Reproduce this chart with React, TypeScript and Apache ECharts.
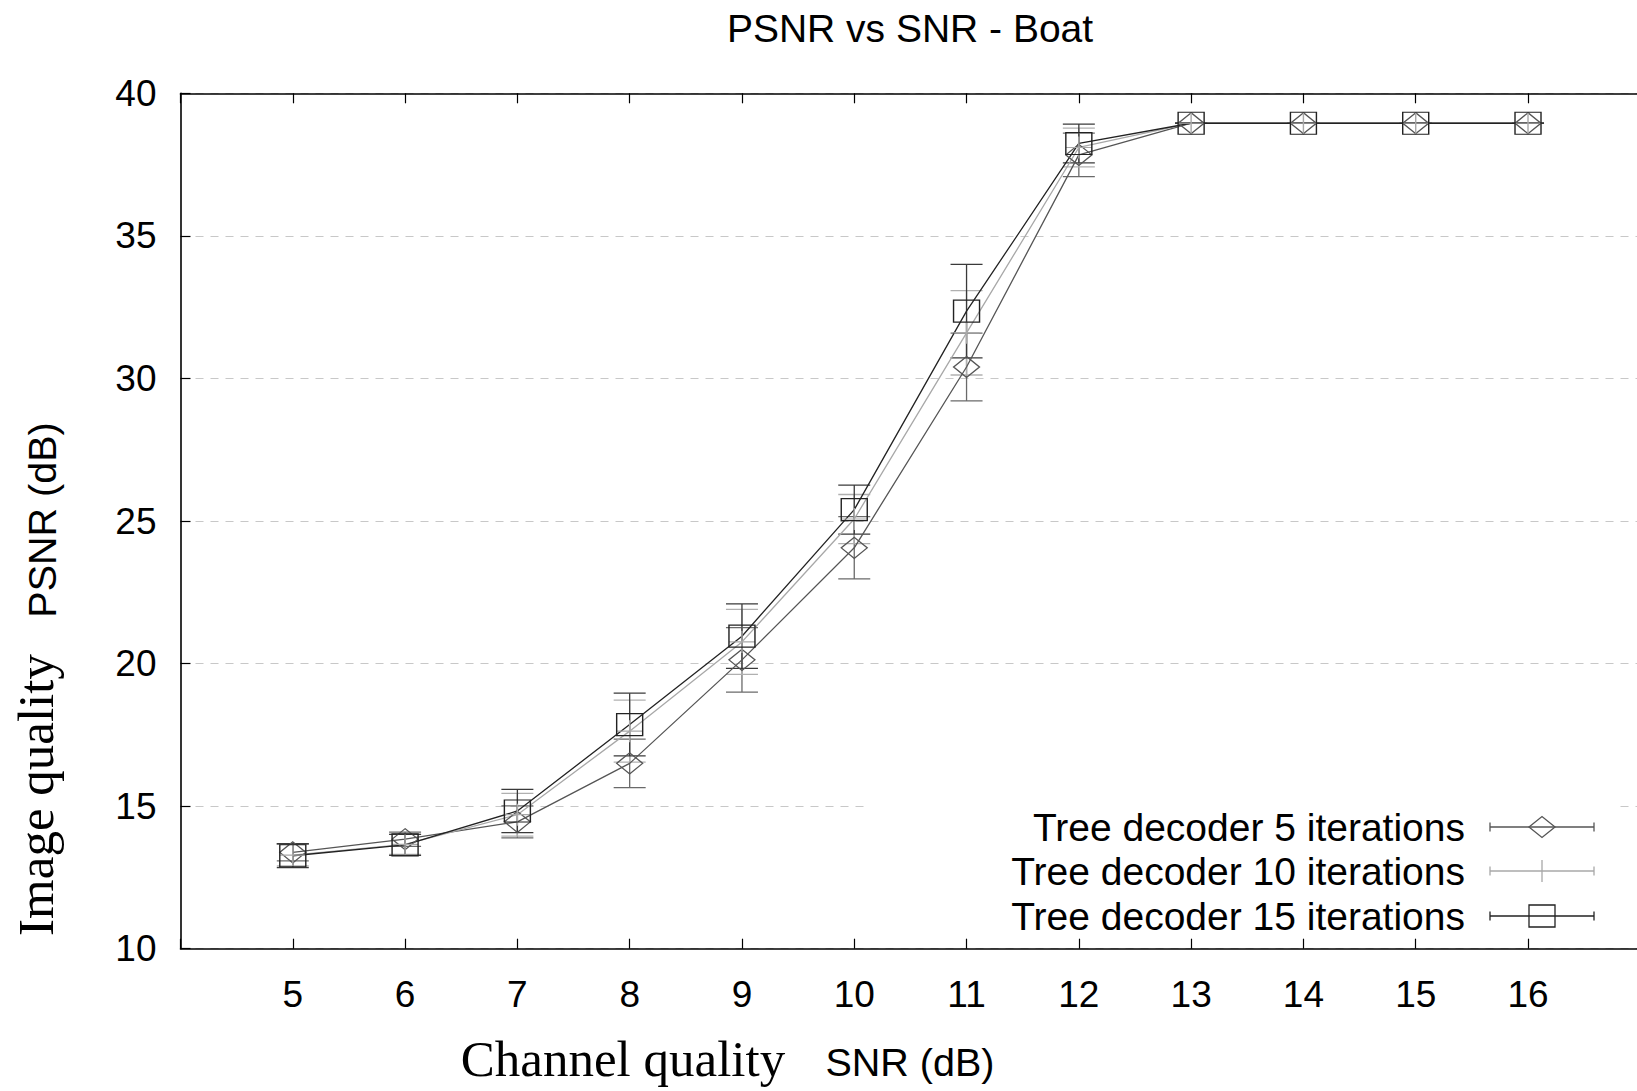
import React, { useEffect, useRef } from "react";
import * as echarts from "echarts";

// ---- data ----
const snr = [5, 6, 7, 8, 9, 10, 11, 12, 13, 14, 15, 16];
const psnr5 = [13.38, 13.84, 14.45, 16.5, 20.13, 24.06, 30.4, 37.84, 38.95, 38.95, 38.95, 38.95];
const err5 = [0.3, 0.25, 0.56, 0.85, 1.13, 1.09, 1.19, 0.76, 0, 0, 0, 0];
const psnr10 = [13.28, 13.66, 14.7, 17.63, 20.76, 25.07, 31.6, 38.1, 38.95, 38.95, 38.95, 38.95];
const err10 = [0.38, 0.35, 0.75, 1.09, 1.14, 0.86, 1.48, 0.68, 0, 0, 0, 0];
const psnr15 = [13.26, 13.64, 14.83, 17.86, 20.96, 25.4, 32.36, 38.24, 38.95, 38.95, 38.95, 38.95];
const err15 = [0.42, 0.37, 0.76, 1.1, 1.13, 0.86, 1.64, 0.68, 0, 0, 0, 0];
const seriesNames = [
  "Tree decoder 5 iterations",
  "Tree decoder 10 iterations",
  "Tree decoder 15 iterations",
];
const titleText = "PSNR vs SNR - Boat";

const SANS = "Liberation Sans";
const SERIF = "Liberation Serif";

const C5 = "#555555";
const C10 = "#a8a8a8";
const C15 = "#222222";
const E5 = "#6a6a6a";
const E10 = "#b0b0b0";
const E15 = "#3a3a3a";

function errorSeries(vals: number[], errs: number[], color: string) {
  return {
    type: "custom",
    silent: true,
    clip: true,
    encode: { x: 0, y: [1, 2] },
    data: snr.map((x, i) => [x, vals[i] - errs[i], vals[i] + errs[i]]),
    renderItem: (params: any, api: any) => {
      const x = api.value(0);
      const lo = api.coord([x, api.value(1)]);
      const hi = api.coord([x, api.value(2)]);
      const w = 16;
      const style = { stroke: color, lineWidth: 1.3, fill: "none" };
      return {
        type: "group",
        children: [
          { type: "line", shape: { x1: lo[0], y1: lo[1], x2: hi[0], y2: hi[1] }, style },
          { type: "line", shape: { x1: lo[0] - w, y1: lo[1], x2: lo[0] + w, y2: lo[1] }, style },
          { type: "line", shape: { x1: hi[0] - w, y1: hi[1], x2: hi[0] + w, y2: hi[1] }, style },
        ],
      };
    },
  };
}

function lineSeries(name: string, vals: number[], color: string, symbol: string, size: number[]) {
  return {
    name,
    type: "line",
    data: snr.map((x, i) => [x, vals[i]]),
    symbol,
    symbolSize: size,
    showAllSymbol: true,
    lineStyle: { color, width: 1.3 },
    itemStyle: { color: "rgba(0,0,0,0)", borderColor: color, borderWidth: 1.3 },
    emphasis: { disabled: true },
  };
}

function txt(text: string, x: number, y: number, size: number, family: string, align: string, rotation = 0) {
  return {
    type: "text",
    x,
    y,
    rotation,
    z: 100,
    style: {
      text,
      fontSize: size,
      fontFamily: family,
      fill: "#000",
      align,
      textAlign: align,
      verticalAlign: "middle",
      textVerticalAlign: "middle",
    },
  };
}

function legendRow(y: number, color: string, marker: string, label: string) {
  const cx = 1542;
  const st = { stroke: color, lineWidth: 1.3, fill: "none" };
  const items: any[] = [
    txt(label, 1465, y, 39, SANS, "right"),
    { type: "line", z: 100, shape: { x1: 1490, y1: y, x2: 1594, y2: y }, style: st },
    { type: "line", z: 100, shape: { x1: 1490, y1: y - 4.5, x2: 1490, y2: y + 4.5 }, style: st },
    { type: "line", z: 100, shape: { x1: 1594, y1: y - 4.5, x2: 1594, y2: y + 4.5 }, style: st },
  ];
  if (marker === "diamond") {
    items.push({
      type: "polygon",
      z: 100,
      shape: { points: [[cx - 13, y], [cx, y - 10.5], [cx + 13, y], [cx, y + 10.5]] },
      style: st,
    });
  } else if (marker === "plus") {
    items.push({ type: "line", z: 100, shape: { x1: cx, y1: y - 11, x2: cx, y2: y + 11 }, style: st });
  } else {
    items.push({ type: "rect", z: 100, shape: { x: cx - 13, y: y - 11, width: 26, height: 22 }, style: st });
  }
  return items;
}

export default function App() {
  const ref = useRef<HTMLDivElement>(null);
  useEffect(() => {
    const chart = echarts.init(ref.current!, null, { renderer: "svg" });
    const axisLine = { show: true, lineStyle: { color: "#000", width: 1.6 } };
    const option: any = {
      animation: false,
      backgroundColor: "#fff",
      title: {
        text: titleText,
        left: 905,
        top: 23,
        textAlign: "center",
        textVerticalAlign: "middle",
        textStyle: { fontFamily: SANS, fontSize: 39, fontWeight: "normal", color: "#000" },
      },
      grid: {
        left: 180.5,
        top: 93.3,
        width: 1459.8,
        height: 855.4,
        containLabel: false,
        outerBoundsMode: "none",
      },
      xAxis: [
        {
          type: "value",
          min: 4,
          max: 17,
          interval: 1,
          axisLine,
          axisTick: { show: true, inside: true, length: 10, lineStyle: { color: "#000", width: 1.2 } },
          axisLabel: {
            margin: 27,
            fontFamily: SANS,
            fontSize: 37,
            color: "#000",
            formatter: (v: number) => (v >= 5 && v <= 16 ? String(v) : ""),
          },
          splitLine: { show: false },
        },
        {
          type: "value",
          position: "top",
          min: 4,
          max: 17,
          interval: 1,
          axisLine,
          axisTick: { show: true, inside: true, length: 10, lineStyle: { color: "#000", width: 1.2 } },
          axisLabel: { show: false },
          splitLine: { show: false },
        },
      ],
      yAxis: {
        type: "value",
        min: 10,
        max: 40,
        interval: 5,
        axisLine,
        axisTick: { show: true, inside: true, length: 10, lineStyle: { color: "#000", width: 1.2 } },
        axisLabel: { margin: 24, fontFamily: SANS, fontSize: 37, color: "#000" },
        splitLine: { show: true, lineStyle: { color: "#c8c8c8", width: 1.2, type: [8, 7] } },
      },
      series: [
        errorSeries(psnr5, err5, E5),
        errorSeries(psnr10, err10, E10),
        errorSeries(psnr15, err15, E15),
        lineSeries(seriesNames[0], psnr5, C5, "diamond", [26, 21]),
        lineSeries(seriesNames[1], psnr10, C10, "path://M10 0 L10 20 M0 10 L20 10", [26, 22]),
        lineSeries(seriesNames[2], psnr15, C15, "rect", [26, 22]),
      ],
      graphic: [
        // legend box
        {
          type: "rect",
          z: 90,
          shape: { x: 864, y: 795, width: 752, height: 143 },
          style: { fill: "#fff", stroke: "none" },
        },
        ...legendRow(827, C5, "diamond", seriesNames[0]),
        ...legendRow(871, C10, "plus", seriesNames[1]),
        ...legendRow(916, C15, "rect", seriesNames[2]),
        // axis titles
        txt("Channel quality", 623, 1059, 51, SERIF, "center"),
        txt("SNR (dB)", 910, 1062, 39.5, SANS, "center"),
        txt("Image quality", 36, 795, 51, SERIF, "center", Math.PI / 2),
        txt("PSNR (dB)", 42, 520, 39.5, SANS, "center", Math.PI / 2),
      ],
    };
    chart.setOption(option);
    return () => chart.dispose();
  }, []);
  return (
    <div
      ref={ref}
      style={{ position: "fixed", left: 0, top: 0, width: 1637, height: 1091, background: "#fff" }}
    />
  );
}
